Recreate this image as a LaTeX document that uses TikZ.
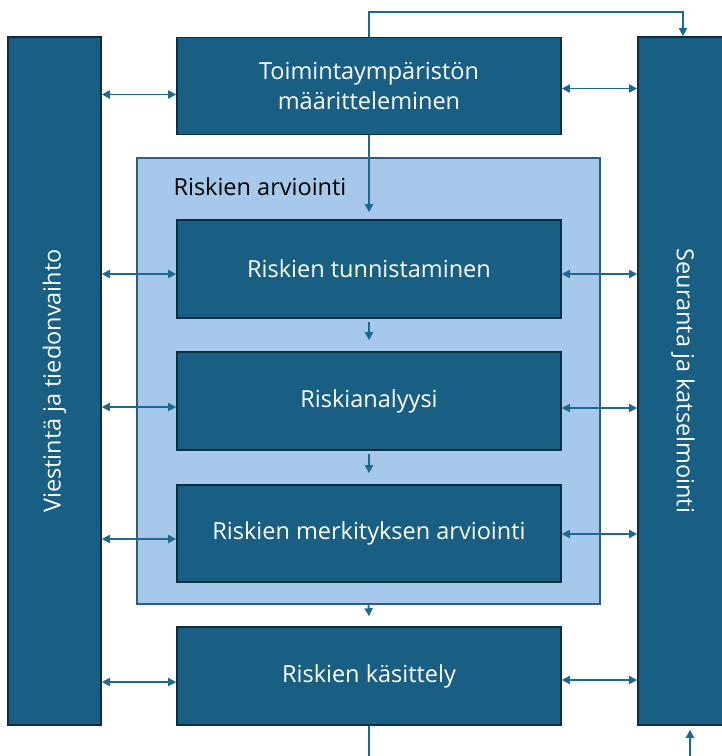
\documentclass[tikz,border=0pt]{standalone}
\usepackage{fontspec}
\setmainfont{Open Sans}
\usetikzlibrary{arrows.meta}
\definecolor{boxblue}{HTML}{195E83}
\definecolor{boxedge}{HTML}{0D2E40}
\definecolor{paleblue}{HTML}{A6C8EB}
\definecolor{paleedge}{HTML}{2A5F80}
\definecolor{linkblue}{HTML}{1C6A91}
\tikzset{
  labelfont/.style={font=\fontsize{23.5}{30}\selectfont},
  stepbox/.style={draw=boxedge, line width=1.6pt, fill=boxblue, text=white,
    minimum width=384pt, minimum height=97pt, inner sep=0pt, align=center,
    labelfont},
  sidebar/.style={draw=boxedge, line width=1.6pt, fill=boxblue, inner sep=0pt},
  groupbox/.style={draw=paleedge, line width=1.2pt, fill=paleblue, inner sep=0pt},
  link/.style={draw=linkblue, line width=1.8pt,
    -{Triangle[length=8pt,width=8pt]}},
  bilink/.style={draw=linkblue, line width=1.8pt,
    {Triangle[length=8pt,width=8pt]}-{Triangle[length=8pt,width=8pt]}},
  plain/.style={draw=linkblue, line width=1.8pt}
}
\begin{document}
\begin{tikzpicture}[x=1pt, y=-1pt]
\useasboundingbox (0,0) rectangle (722,756);
\begin{scope}
\clip (0,0) rectangle (722,756);
% side bars
\node[sidebar, minimum width=93pt, minimum height=688pt] (lbar) at (54.5,381) {};
\node[sidebar, minimum width=90pt, minimum height=688pt] (rbar) at (683,381) {};
\node[text=white, rotate=90, labelfont] (ltxt) at (lbar.center) {Viestintä ja tiedonvaihto};
\node[text=white, rotate=-90, labelfont] (rtxt) at (rbar.center) {Seuranta ja katselmointi};

% assessment group
\node[groupbox, minimum width=463pt, minimum height=446pt] (group) at (368.5,381) {};
\node[anchor=west, labelfont, text=black] (gtitle) at (170,187) {Riskien arviointi};

% process steps
\node[stepbox] (ctx) at (369,86) {Toimintaympäristön\\määritteleminen};
\node[stepbox, minimum height=98pt] (ident) at (369,269) {Riskien tunnistaminen};
\node[stepbox, minimum height=98pt] (anal) at (369,401) {Riskianalyysi};
\node[stepbox] (eval) at (369,533.5) {Riskien merkityksen arviointi};
\node[stepbox, minimum height=98pt] (treat) at (369,676) {Riskien käsittely};

% free ends
\coordinate (outbot) at (369,760);
\coordinate (inbot) at (690,760);

% main flow
\draw[link] (ctx.south) -- ([yshift=7pt]ident.north);
\draw[link, shorten <=3pt] (ident.south) -- ([yshift=11pt]anal.north);
\draw[link, shorten <=3pt] (anal.south) -- ([yshift=11pt]eval.north);
\draw[link] (group.south) -- ([yshift=10pt]treat.north);
\draw[plain] (treat.south) -- (outbot);
\draw[link] (ctx.north) -- ++(0,-25) -| (rbar.north);
\draw[link] (inbot) -- ([xshift=7pt,yshift=-4pt]rbar.south);

% exchange with the side bars
\draw[bilink] ([yshift=-8.5pt]lbar.east |- ctx.west) -- ([yshift=-8.5pt]ctx.west);
\draw[bilink] ([yshift=-2.5pt]ctx.east) -- ([yshift=-2.5pt]rbar.west |- ctx.east);
\draw[bilink] ([yshift=-5pt]lbar.east |- ident.west) -- ([yshift=-5pt]ident.west);
\draw[bilink] ([yshift=-5pt]ident.east) -- ([yshift=-5pt]rbar.west |- ident.east);
\draw[bilink] ([yshift=-6pt]lbar.east |- anal.west) -- ([yshift=-6pt]anal.west);
\draw[bilink] ([yshift=-7pt]anal.east) -- ([yshift=-7pt]rbar.west |- anal.east);
\draw[bilink] ([yshift=-5.5pt]lbar.east |- eval.west) -- ([yshift=-5.5pt]eval.west);
\draw[bilink] ([yshift=-0.5pt]eval.east) -- ([yshift=-0.5pt]rbar.west |- eval.east);
\draw[bilink] ([yshift=-6pt]lbar.east |- treat.west) -- ([yshift=-6pt]treat.west);
\draw[bilink] ([yshift=-4pt]treat.east) -- ([yshift=-4pt]rbar.west |- treat.east);
\end{scope}
\end{tikzpicture}
\end{document}
